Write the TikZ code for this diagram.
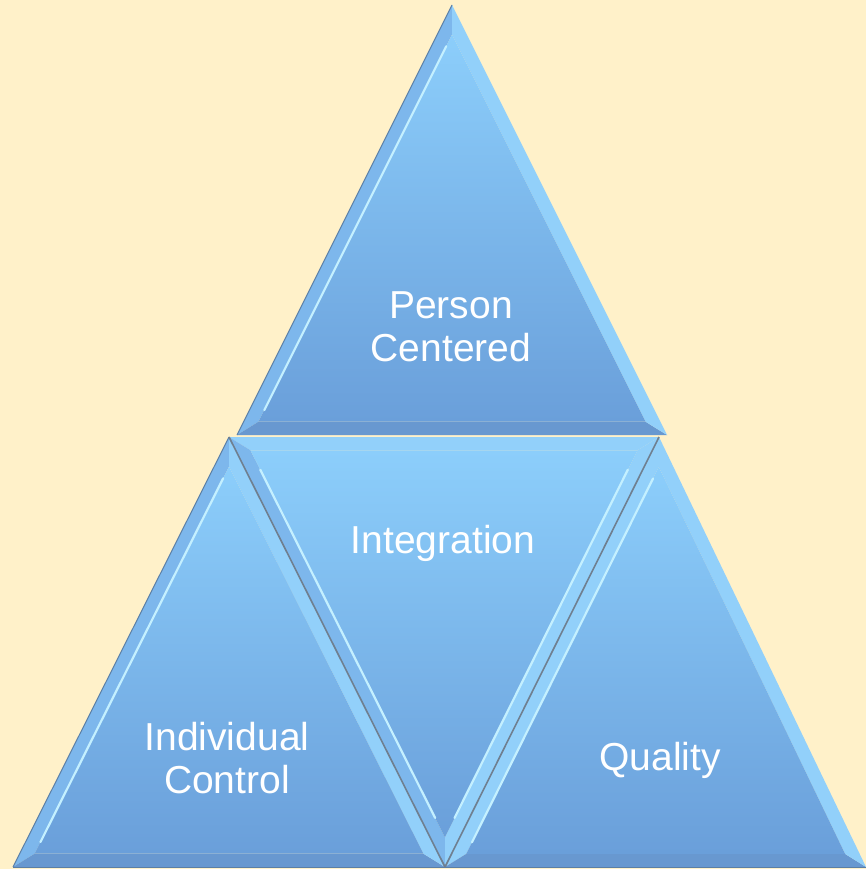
\documentclass[tikz,border=0pt]{standalone}
\usepackage{fontspec}
\setmainfont{Liberation Sans}
\usetikzlibrary{calc}
\definecolor{bgc}{HTML}{FFF1C9}
\definecolor{facetop}{HTML}{8CCEFB}
\definecolor{facebot}{HTML}{6A9FDA}
\definecolor{bandlight}{HTML}{92D0FA}
\definecolor{bandmid}{HTML}{7DB7EC}
\definecolor{banddark}{HTML}{6898D0}
\definecolor{hilite}{HTML}{C4F0FF}
\definecolor{edgedark}{HTML}{5B7FA6}
\definecolor{seam}{HTML}{6F7F90}
\tikzset{
  lbl/.style={text=white, font=\fontsize{39}{43}\selectfont, align=center, inner sep=0pt},
  hl/.style={hilite, line width=2.2pt, line cap=round},
  darkedge/.style={edgedark, line width=1pt},
  seamline/.style={seam, line width=1.6pt}
}
% #1 #2 #3 vertices, #4 incenter, #5 #6 #7 band colours for edges 12, 23, 31
\newcommand{\bevtri}[7]{%
  \coordinate (#1i) at ($(#4)!0.9!(#1)$);
  \coordinate (#2i) at ($(#4)!0.9!(#2)$);
  \coordinate (#3i) at ($(#4)!0.9!(#3)$);
  \fill[#5] (#1) -- (#2) -- (#2i) -- (#1i) -- cycle;
  \fill[#6] (#2) -- (#3) -- (#3i) -- (#2i) -- cycle;
  \fill[#7] (#3) -- (#1) -- (#1i) -- (#3i) -- cycle;
  \shade[top color=facetop, bottom color=facebot] (#1i) -- (#2i) -- (#3i) -- cycle;
}
\begin{document}
\begin{tikzpicture}[x=1pt,y=-1pt]
\fill[bgc] (0,0) rectangle (866,869);
\useasboundingbox (0,0) rectangle (866,869);
% vertices
\coordinate (T1) at (452,5);   \coordinate (T2) at (237,435); \coordinate (T3) at (667,435); \coordinate (TI) at (452,302);
\coordinate (L1) at (229,437); \coordinate (L2) at (13,867);  \coordinate (L3) at (445,867); \coordinate (LI) at (229,734);
\coordinate (M1) at (229,437); \coordinate (M2) at (659,437); \coordinate (M3) at (445,867); \coordinate (MI) at (444,570);
\coordinate (R1) at (659,437); \coordinate (R2) at (445,867); \coordinate (R3) at (866,867); \coordinate (RI) at (657,736);
% top
\bevtri{T1}{T2}{T3}{TI}{bandmid}{banddark}{bandlight}
\draw[hl] ($(T1i)!0.03!(T2i)$) -- ($(T1i)!0.97!(T2i)$);
\draw[darkedge] (T1) -- (T2);
% bottom left
\bevtri{L1}{L2}{L3}{LI}{bandmid}{banddark}{bandlight}
\draw[hl] ($(L1i)!0.03!(L2i)$) -- ($(L1i)!0.97!(L2i)$);
\draw[darkedge] (L1) -- (L2);
% middle inverted
\bevtri{M1}{M2}{M3}{MI}{bandlight}{bandlight}{bandmid}
\draw[hl] ($(M3i)!0.05!(M1i)$) -- ($(M3i)!0.95!(M1i)$);
\draw[hl] ($(M2i)!0.05!(M3i)$) -- ($(M2i)!0.95!(M3i)$);
% bottom right
\bevtri{R1}{R2}{R3}{RI}{bandlight}{banddark}{bandlight}
\draw[hl] ($(R1i)!0.03!(R2i)$) -- ($(R1i)!0.97!(R2i)$);
% seams
\draw[seamline] (M1) -- (M3);
\draw[seamline] (M2) -- (M3);
\draw[darkedge] (L2) -- (R3);
% labels
\node[lbl] (pc) at (451,327) {Person\\Centered};
\node[lbl] (ig) at (443,543) {Integration};
\node[lbl] (ic) at (227,758) {Individual\\Control};
\node[lbl] (ql) at (660,760) {Quality};
\end{tikzpicture}
\end{document}
